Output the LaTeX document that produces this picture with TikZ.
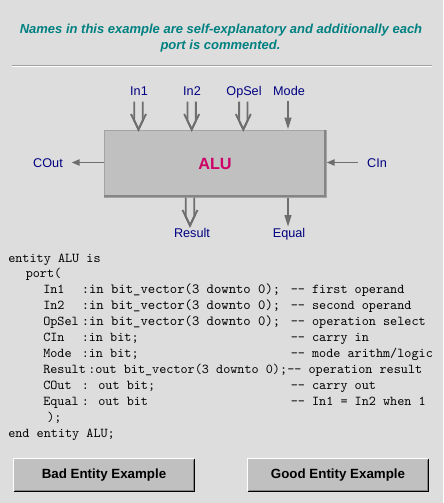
\documentclass[tikz,border=0pt]{standalone}
\usepackage{fontspec}
\setmainfont{Liberation Sans}
\usetikzlibrary{arrows.meta}
\definecolor{bg}{HTML}{DDDDDD}
\definecolor{titleteal}{HTML}{008080}
\definecolor{navy}{HTML}{000080}
\definecolor{alured}{HTML}{CC0066}
\definecolor{boxfill}{HTML}{C0C0C0}
\definecolor{boxedge}{HTML}{A4A4A4}
\definecolor{shadowgray}{HTML}{858585}
\definecolor{arrowgray}{HTML}{6E6E6E}
\definecolor{sepgray}{HTML}{A0A0A0}
\tikzset{
  titletext/.style={anchor=base, inner sep=0, text=titleteal, font=\fontsize{9.75}{12}\selectfont\bfseries\itshape},
  lbl/.style={anchor=base, inner sep=0, text=navy, font=\fontsize{9.5}{11}\selectfont},
  code/.style={anchor=base west, inner sep=0, text=black, font=\ttfamily\fontsize{10.15}{12}\selectfont},
  codewide/.style={code, font=\ttfamily\fontsize{10.5}{12}\selectfont},
  alubox/.style={draw=boxedge, line width=0.75pt, fill=boxfill, minimum width=166.5pt, minimum height=50.25pt, inner sep=0, text=alured, font=\fontsize{12.2}{14}\selectfont\bfseries},
  btn/.style={fill=boxfill, minimum width=135pt, minimum height=24pt, inner sep=0, text=black, font=\fontsize{10}{12}\selectfont\bfseries},
  arr/.style={draw=arrowgray, line width=1.4pt, line join=miter},
  sarr/.style={draw=arrowgray, line width=1.6pt, -{Triangle[length=9pt,width=5pt]}},
  harr/.style={draw=arrowgray, line width=1.4pt, -{Triangle[length=6pt,width=4.5pt]}},
  dblarrow/.pic={
    \draw[arr] (-4.2,-28) -- (-4.2,-9) -- (0,0) -- (4.2,-9) -- (4.2,-28);
    \draw[arr] (-7.5,-15.5) -- (0,0) -- (7.5,-15.5);
  }
}
\begin{document}
\begin{tikzpicture}[x=0.75pt,y=-0.75pt]
\fill[bg] (0,0) rectangle (443,503);
\useasboundingbox (0,0) rectangle (443,503);

% title
\node[titletext] (t1) at (221,33.3) {Names in this example are self-explanatory and additionally each};
\node[titletext] (t2) at (220.5,49.3) {port is commented.};
\draw[sepgray, line width=0.75pt] (12,66) -- (432,66);
\draw[white, line width=0.75pt] (12,67) -- (432,67);

% ALU block
\node[alubox] (alu) at (215,163.5) {ALU};
\draw[shadowgray, line width=1.9pt] ([xshift=-1pt]alu.north east) -- ([xshift=-1pt,yshift=1pt]alu.south east) -- ([yshift=1pt]alu.south west);

% labels
\node[lbl] (in1) at (139,95) {In1};
\node[lbl] (in2) at (192,95) {In2};
\node[lbl] (opsel) at (244,95) {OpSel};
\node[lbl] (mode) at (289,95) {Mode};
\node[lbl] (cout) at (48,167) {COut};
\node[lbl] (cin) at (377,167) {CIn};
\node[lbl] (result) at (192,237.5) {Result};
\node[lbl] (equal) at (289,237.5) {Equal};

% connectors
\coordinate (in1tip) at (138.5,129.5);
\coordinate (in2tip) at (191.7,129.5);
\coordinate (opseltip) at (243.3,129.5);
\coordinate (resulttip) at (190,225.5);
\pic at (in1tip) {dblarrow};
\pic at (in2tip) {dblarrow};
\pic at (opseltip) {dblarrow};
\pic at (resulttip) {dblarrow};
\coordinate (modetop) at (288,101);
\draw[sarr] (modetop) -- (modetop |- alu.north);
\coordinate (equalend) at (288,227);
\draw[sarr] (alu.south -| equalend) -- (equalend);
\coordinate (coutend) at (71.5,162.5);
\draw[harr] (alu.west |- coutend) -- (coutend);
\coordinate (cinstart) at (358,162.5);
\draw[harr] (cinstart) -- (alu.east |- cinstart);

% code
\node[code] (c0) at (8,262) {entity ALU is};
\node[code] (c1) at (25.5,277.9) {port(};
\node[code] (c2a) at (43,293.8) {In1};
\node[codewide] (c2b) at (81.5,293.8) {:in bit\_vector(3 downto 0);};
\node[code] (c2c) at (290.5,293.8) {-- first operand};
\node[code] (c3a) at (43,309.8) {In2};
\node[codewide] (c3b) at (81.5,309.8) {:in bit\_vector(3 downto 0);};
\node[code] (c3c) at (290.5,309.8) {-- second operand};
\node[code] (c4a) at (43,325.7) {OpSel};
\node[codewide] (c4b) at (81.5,325.7) {:in bit\_vector(3 downto 0);};
\node[code] (c4c) at (290.5,325.7) {-- operation select};
\node[code] (c5a) at (43,341.6) {CIn};
\node[code] (c5b) at (81.5,341.6) {:in bit;};
\node[code] (c5c) at (290.5,341.6) {-- carry in};
\node[code] (c6a) at (43,357.5) {Mode};
\node[code] (c6b) at (81.5,357.5) {:in bit;};
\node[code] (c6c) at (290.5,357.5) {-- mode arithm/logic};
\node[code] (c7a) at (43,373.4) {Result};
\node[code] (c7b) at (88,373.4) {:out bit\_vector(3 downto 0);};
\node[code] (c7c) at (287,373.4) {-- operation result};
\node[code] (c8a) at (43,389.4) {COut};
\node[code] (c8b) at (81.5,389.4) {: out bit;};
\node[code] (c8c) at (290.5,389.4) {-- carry out};
\node[code] (c9a) at (43,405.3) {Equal};
\node[code] (c9b) at (81.5,405.3) {: out bit};
\node[code] (c9c) at (290.5,405.3) {-- In1 = In2 when 1};
\node[code] (c10) at (47,421.2) {);};
\node[code] (c11) at (8,437.1) {end entity ALU;};

% buttons
\node[btn] (bad) at (104,475) {Bad Entity Example};
\node[btn] (good) at (338,475) {Good Entity Example};
\foreach \b in {bad,good}{
  \draw[white, line width=0.75pt] (\b.south west) -- (\b.north west) -- (\b.north east);
  \draw[black, line width=0.75pt] (\b.north east) -- (\b.south east) -- (\b.south west);
  \draw[shadowgray, line width=0.75pt] ([xshift=-0.75pt,yshift=-0.75pt]\b.north east) -- ([xshift=-0.75pt,yshift=0.75pt]\b.south east) -- ([xshift=0.75pt,yshift=0.75pt]\b.south west);
}
\end{tikzpicture}
\end{document}
